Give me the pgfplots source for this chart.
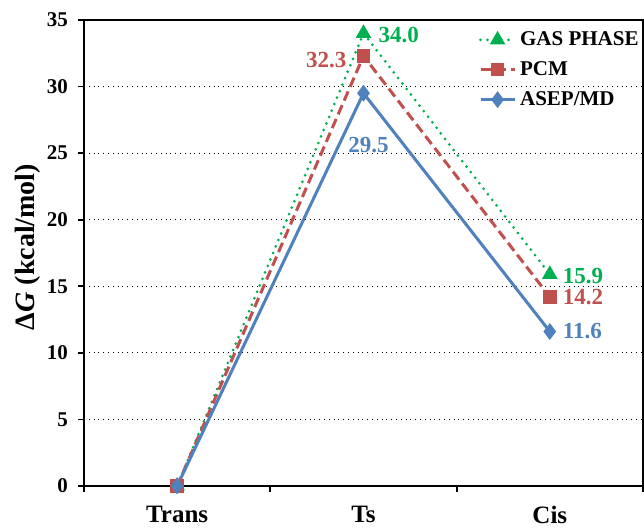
\documentclass[border=0pt]{standalone}
\usepackage{pgfplots}
\pgfplotsset{compat=1.18}
\usepackage{fontspec}
\setmainfont{Liberation Serif}
\definecolor{cgreen}{RGB}{0,176,80}
\definecolor{cred}{RGB}{192,80,77}
\definecolor{cblue}{RGB}{79,129,189}
\begin{document}
\begin{tikzpicture}
\path[use as bounding box] (-42pt,-21.5pt) rectangle (280pt,243pt);
\begin{axis}[
  at={(0,0)}, anchor=south west,
  scale only axis, width=279.5pt, height=233pt,
  xmin=0.5, xmax=3.5, ymin=0, ymax=35,
  xtick={1,2,3}, xticklabels={Trans,Ts,Cis},
  minor xtick={0.5,1.5,2.5,3.5},
  major x tick style={draw=none},
  ytick={0,5,...,35},
  tick align=outside, xtick pos=bottom, ytick pos=left,
  major tick length=3pt, minor tick length=3pt,
  tick style={black, line width=0.9pt},
  axis line style={line width=1pt},
  ymajorgrids, grid style={black, dotted, line width=0.6pt},
  /pgf/number format/assume math mode=true,
  xticklabel style={font=\bfseries\fontsize{12.5}{14}\selectfont, yshift=-3.5pt},
  yticklabel style={font=\bfseries\fontsize{10.5}{12}\selectfont, xshift=-1.5pt},
  every axis y label/.style={at={(axis description cs:0,0.5)}, xshift=-28pt, yshift=3pt, rotate=90, anchor=center, font=\bfseries\fontsize{14}{16}\selectfont},
  ylabel={Δ\textit{G} (kcal/mol)},
  legend style={draw=none, fill=none, at={(1,0.985)}, anchor=north east, xshift=3pt, yshift=2pt, font=\bfseries\fontsize{10.5}{12}\selectfont, row sep=2.5pt},
  legend cell align=left,
  clip=false,
]
\addplot[cgreen, line width=1.5pt, line cap=round, dash pattern=on 0pt off 3.5pt, mark=triangle*, mark size=3pt, mark options={solid}] coordinates {(1,0) (2,34.0) (3,15.9)};
\addlegendentry{GAS PHASE}
\addplot[cred, line width=1.5pt, dash pattern=on 5pt off 2.5pt, mark=square*, mark size=2.6pt, mark options={solid}] coordinates {(1,0) (2,32.3) (3,14.2)};
\addlegendentry{PCM}
\addplot[cblue, line width=1.5pt, mark=diamond*, mark size=3pt, mark options={solid}] coordinates {(1,0) (2,29.5) (3,11.6)};
\addlegendentry{ASEP/MD}
\begin{scope}[font=\bfseries\fontsize{11.5}{13}\selectfont]
\node[cgreen, anchor=west, xshift=4pt, yshift=-1pt] at (axis cs:2,34.0) {34.0};
\node[cred, anchor=east, xshift=-5pt, yshift=-2pt] at (axis cs:2,32.3) {32.3};
\node[cblue, anchor=center, xshift=2.5pt, yshift=-26pt] at (axis cs:2,29.5) {29.5};
\node[cgreen, anchor=west, xshift=3pt, yshift=-1pt] at (axis cs:3,15.9) {15.9};
\node[cred, anchor=west, xshift=3pt, yshift=0pt] at (axis cs:3,14.2) {14.2};
\node[cblue, anchor=west, xshift=3pt, yshift=0pt] at (axis cs:3,11.6) {11.6};
\end{scope}
\end{axis}
\end{tikzpicture}
\end{document}
